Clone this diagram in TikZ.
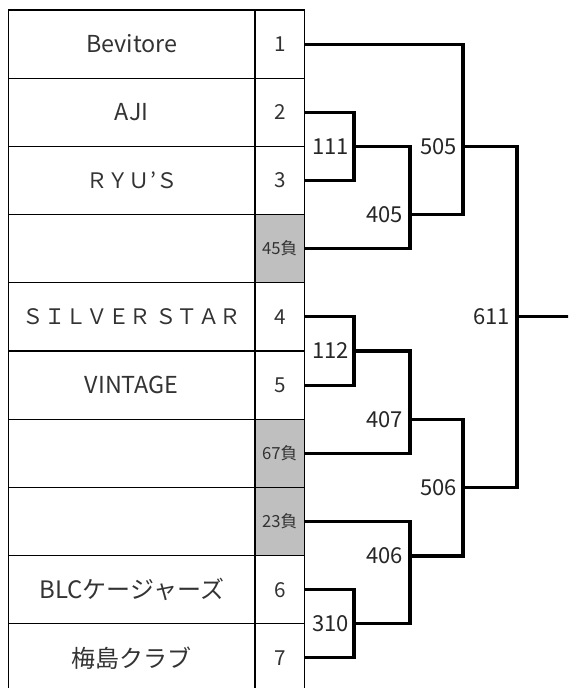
\documentclass[tikz,border=0pt]{standalone}
\usepackage{fontspec}
\setmainfont{Noto Sans CJK JP}
\begin{document}
\begin{tikzpicture}[x=0.75pt,y=-0.75pt,
  namecell/.style={draw=black, line width=0.9pt, minimum width=184.9pt, minimum height=51.15pt, inner sep=0pt, text=black!80, font=\fontsize{17.5}{20}\selectfont},
  widecell/.style={namecell, font=\fontsize{16}{19}\selectfont},
  numcell/.style={draw=black, line width=0.9pt, minimum width=37.1pt, minimum height=51.15pt, inner sep=0pt, text=black!80, font=\fontsize{15.5}{18}\selectfont},
  lose/.style={numcell, fill=black!25, font=\fontsize{12.5}{15}\selectfont},
  br/.style={line width=2.3pt, line join=miter},
  lbl/.style={anchor=east, inner sep=0pt, text=black!85, font=\fontsize{16.5}{19}\selectfont}]
\useasboundingbox (0,0) rectangle (568,688);
\begin{scope}
\clip (0,0) rectangle (568,688);
% table rows
\node[namecell] (n0) at (131.75,44.1) {Bevitore};
\node[numcell]  (s0) at (279.75,44.1) {1};
\node[namecell] (n1) at (131.75,112.3) {AJI};
\node[numcell]  (s1) at (279.75,112.3) {2};
\node[widecell] (n2) at (131.75,180.5) {ＲＹＵ’Ｓ};
\node[numcell]  (s2) at (279.75,180.5) {3};
\node[namecell] (n3) at (131.75,248.7) {};
\node[lose]     (s3) at (279.75,248.7) {45負};
\node[widecell] (n4) at (131.75,316.9) {ＳＩＬＶＥＲ ＳＴＡＲ};
\node[numcell]  (s4) at (279.75,316.9) {4};
\node[namecell] (n5) at (131.75,385.1) {VINTAGE};
\node[numcell]  (s5) at (279.75,385.1) {5};
\node[namecell] (n6) at (131.75,453.3) {};
\node[lose]     (s6) at (279.75,453.3) {67負};
\node[namecell] (n7) at (131.75,521.5) {};
\node[lose]     (s7) at (279.75,521.5) {23負};
\node[namecell, font=\fontsize{18}{21}\selectfont] (n8) at (131.75,589.7) {BLCケージャーズ};
\node[numcell]  (s8) at (279.75,589.7) {6};
\node[namecell, font=\fontsize{18}{21}\selectfont] (n9) at (131.75,657.9) {梅島クラブ};
\node[numcell]  (s9) at (279.75,657.9) {7};
% junctions
\coordinate (j111) at (354,146.4);
\coordinate (j405) at (410,214.2);
\coordinate (j505) at (463,146.4);
\coordinate (j611) at (517,316.9);
\coordinate (j112) at (354,351.0);
\coordinate (j407) at (410,419.3);
\coordinate (j506) at (463,487.4);
\coordinate (j406) at (410,556.0);
\coordinate (j310) at (354,623.8);
\coordinate (fin)  at (572,316.9);
% brackets
\draw[br] (s1.east) -| (j111) |- (s2.east);
\draw[br] (j111) -| (j405) |- (s3.east);
\draw[br] (s0.east) -| (j505);
\draw[br] (j405) -| (j505);
\draw[br] (j505) -| (j611);
\draw[br] (s4.east) -| (j112) |- (s5.east);
\draw[br] (j112) -| (j407) |- (s6.east);
\draw[br] (j407) -| (j506);
\draw[br] (s8.east) -| (j310) |- (s9.east);
\draw[br] (j310) -| (j406) |- (s7.east);
\draw[br] (j406) -| (j506);
\draw[br] (j506) -| (j611);
\draw[br] (j611) -- (fin);
% labels
\node[lbl] (l111) at (349,146.4) {111};
\node[lbl] (l405) at (403,214.2) {405};
\node[lbl] (l505) at (457,146.4) {505};
\node[lbl] (l611) at (510,316.9) {611};
\node[lbl] (l112) at (349,351.0) {112};
\node[lbl] (l407) at (403,419.3) {407};
\node[lbl] (l506) at (457,487.4) {506};
\node[lbl] (l406) at (403,556.0) {406};
\node[lbl] (l310) at (349,623.8) {310};
\end{scope}
\end{tikzpicture}
\end{document}
